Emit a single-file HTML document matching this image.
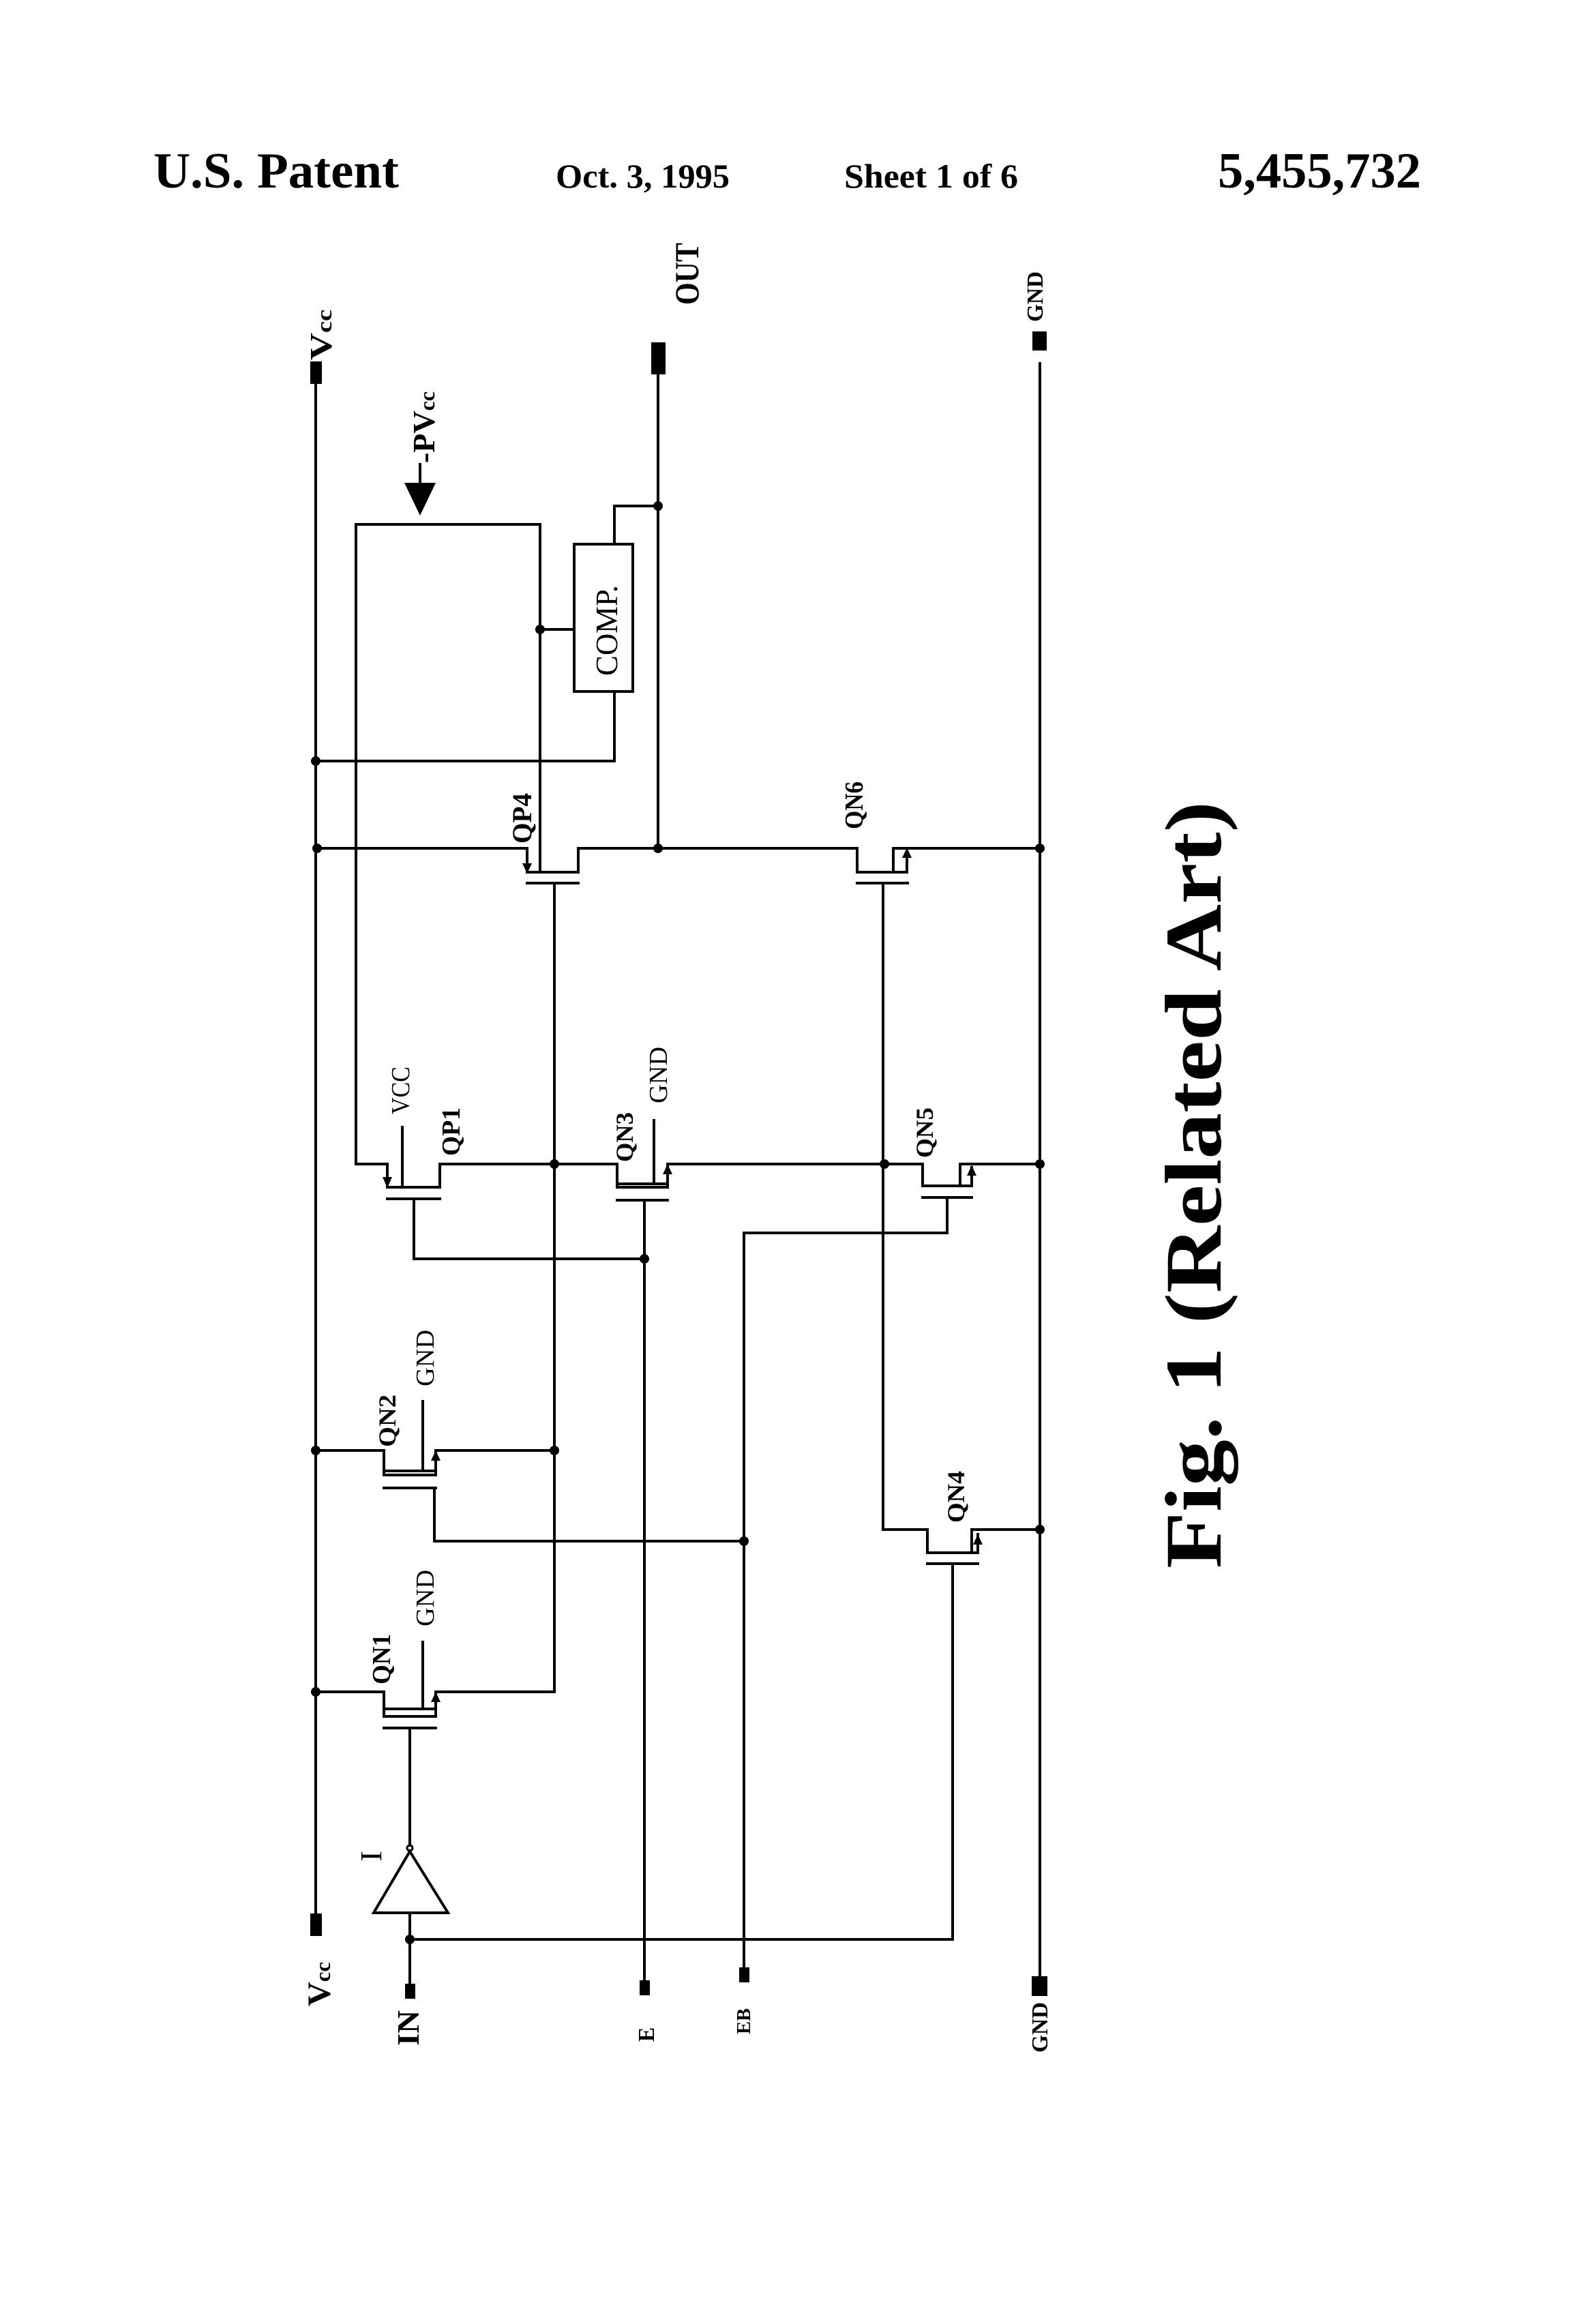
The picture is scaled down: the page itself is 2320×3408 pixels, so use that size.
<!DOCTYPE html>
<html><head><meta charset="utf-8"><style>
html,body{margin:0;padding:0;background:#fff;}
svg{display:block;}
text{font-family:"Liberation Serif",serif;fill:#000;}
.b{font-weight:bold;}
</style></head><body>
<svg width="2320" height="3408" viewBox="0 0 2320 3408" xmlns="http://www.w3.org/2000/svg">
<defs>
<marker id="ad" markerWidth="12" markerHeight="12" refX="6" refY="10" orient="auto" markerUnits="userSpaceOnUse"></marker>
</defs>
<!-- header -->
<text x="225" y="275" class="b" font-size="74" textLength="360" lengthAdjust="spacingAndGlyphs">U.S. Patent</text>
<text x="815" y="275" class="b" font-size="50" textLength="255" lengthAdjust="spacingAndGlyphs">Oct. 3, 1995</text>
<text x="1238" y="275" class="b" font-size="50" textLength="255" lengthAdjust="spacingAndGlyphs">Sheet 1 of 6</text>
<text x="1786" y="275" class="b" font-size="74" textLength="298" lengthAdjust="spacingAndGlyphs">5,455,732</text>

<g stroke="#000" stroke-width="4" fill="none" stroke-linecap="square">
<!-- rails -->
<line x1="463" y1="563" x2="463" y2="2806"/>
<line x1="1525" y1="533" x2="1525" y2="2898"/>
<line x1="965" y1="549" x2="965" y2="1244"/>
<!-- PV box -->
<polyline points="522,1707 522,769 792,769 792,1279"/>
<polyline points="522,1707 568,1707 568,1738"/>
<!-- COMP -->
<rect x="842" y="798" width="86" height="216"/>
<polyline points="901,798 901,742 965,742"/>
<polyline points="901,1014 901,1116 463,1116"/>
<line x1="792" y1="923" x2="842" y2="923"/>
<!-- QP4 / QN6 row -->
<polyline points="463,1244 773,1244 773,1276"/>
<polyline points="773,1279 848,1279 848,1244 1257,1244 1257,1279 1330,1279"/>
<polyline points="1310,1279 1310,1244 1525,1244"/>
<line x1="1330" y1="1279" x2="1330" y2="1250"/>
<line x1="773" y1="1295" x2="848" y2="1295"/>
<line x1="813" y1="1295" x2="813" y2="2481"/>
<line x1="1257" y1="1295" x2="1331" y2="1295"/>
<polyline points="1295,1295 1295,2243 1360,2243 1360,2277 1434,2277"/>
<polyline points="1425,2277 1425,2243 1525,2243"/>
<line x1="1434" y1="2277" x2="1434" y2="2250"/>
<!-- QP1 -->
<line x1="568" y1="1741" x2="645" y2="1741"/>
<polyline points="645,1741 645,1707 905,1707 905,1741"/>
<line x1="590" y1="1653" x2="590" y2="1741"/>
<line x1="568" y1="1758" x2="645" y2="1758"/>
<polyline points="607,1758 607,1846 945,1846"/>
<!-- QN3 -->
<rect x="905" y="1736" width="74" height="5"/>
<line x1="959" y1="1643" x2="959" y2="1736"/>
<polyline points="979,1736 979,1707 1353,1707 1353,1739 1425,1739"/>
<polyline points="1408,1739 1408,1707 1525,1707"/>
<line x1="1425" y1="1739" x2="1425" y2="1712"/>
<line x1="905" y1="1760" x2="979" y2="1760"/>
<line x1="945" y1="1760" x2="945" y2="2904"/>
<!-- QN5 gate -->
<line x1="1353" y1="1756" x2="1425" y2="1756"/>
<polyline points="1389,1756 1389,1808 1091,1808 1091,2885"/>
<!-- QN2 -->
<polyline points="463,2127 563,2127 563,2157"/>
<rect x="563" y="2157" width="76" height="6"/>
<polyline points="639,2157 639,2127 813,2127"/>
<line x1="620" y1="2055" x2="620" y2="2157"/>
<line x1="563" y1="2182" x2="639" y2="2182"/>
<polyline points="637,2182 637,2260 1091,2260"/>
<!-- QN1 -->
<polyline points="463,2481 563,2481 563,2506"/>
<rect x="563" y="2506" width="76" height="11"/>
<polyline points="639,2506 639,2481 813,2481"/>
<line x1="620" y1="2408" x2="620" y2="2506"/>
<line x1="563" y1="2534" x2="639" y2="2534"/>
<line x1="601" y1="2534" x2="601" y2="2706"/>
<!-- QN4 gate -->
<line x1="1360" y1="2293" x2="1394" y2="2293"/>
<line x1="1400" y1="2293" x2="1434" y2="2293"/>
<line x1="1397" y1="2293" x2="1397" y2="2844"/>
<!-- inverter -->
<polygon points="601,2715 548,2805 657,2805"/>
<circle cx="601" cy="2710" r="4" stroke-width="3"/>
<polyline points="601,2805 601,2909"/>
<line x1="601" y1="2844" x2="1397" y2="2844"/>
</g>
<!-- arrowheads -->
<g fill="#000">
<polygon points="766,1266 780,1266 773,1281"/>
<polygon points="1323,1258 1337,1258 1330,1243"/>
<polygon points="1427,2265 1441,2265 1434,2250"/>
<polygon points="561,1726 575,1726 568,1742"/>
<polygon points="972,1722 986,1722 979,1707"/>
<polygon points="1418,1724 1432,1724 1425,1709"/>
<polygon points="632,2142 646,2142 639,2127"/>
<polygon points="632,2496 646,2496 639,2481"/>
<!-- PV arrow -->
<polygon points="593,708 639,708 616,756"/>
<rect x="614" y="679" width="4" height="30"/>
<!-- pads -->
<rect x="455" y="530" width="17" height="33"/>
<rect x="955" y="502" width="21" height="47"/>
<rect x="1514" y="486" width="21" height="28"/>
<rect x="455" y="2806" width="17" height="33"/>
<rect x="594" y="2909" width="15" height="22"/>
<rect x="938" y="2904" width="15" height="22"/>
<rect x="1084" y="2885" width="15" height="22"/>
<rect x="1513" y="2898" width="23" height="29"/>
<!-- dots -->
<circle cx="965" cy="742" r="7"/>
<circle cx="792" cy="923" r="7"/>
<circle cx="463" cy="1116" r="7"/>
<circle cx="465" cy="1244" r="7"/>
<circle cx="965" cy="1244" r="7"/>
<circle cx="1525" cy="1244" r="7"/>
<circle cx="813" cy="1707" r="7"/>
<circle cx="1297" cy="1707" r="7"/>
<circle cx="1525" cy="1707" r="7"/>
<circle cx="945" cy="1846" r="7"/>
<circle cx="463" cy="2127" r="7"/>
<circle cx="813" cy="2127" r="7"/>
<circle cx="1091" cy="2260" r="7"/>
<circle cx="1525" cy="2243" r="7"/>
<circle cx="463" cy="2481" r="7"/>
<circle cx="601" cy="2844" r="7"/>
</g>
<!-- rotated labels -->
<g>
<text transform="translate(486,528) rotate(-90)" class="b" font-size="46" textLength="74" lengthAdjust="spacingAndGlyphs">V<tspan font-size="32">cc</tspan></text>
<text transform="translate(1024,447) rotate(-90)" class="b" font-size="50" textLength="91" lengthAdjust="spacingAndGlyphs">OUT</text>
<text transform="translate(1529,472) rotate(-90)" class="b" font-size="34" textLength="74" lengthAdjust="spacingAndGlyphs">GND</text>
<text transform="translate(637,679) rotate(-90)" class="b" font-size="46" textLength="105" lengthAdjust="spacingAndGlyphs">-PV<tspan font-size="32">cc</tspan></text>
<text transform="translate(905,991) rotate(-90)" font-size="46" textLength="133" lengthAdjust="spacingAndGlyphs">COMP.</text>
<text transform="translate(779,1237) rotate(-90)" class="b" font-size="40" textLength="74" lengthAdjust="spacingAndGlyphs">QP4</text>
<text transform="translate(1265,1216) rotate(-90)" class="b" font-size="38" textLength="70" lengthAdjust="spacingAndGlyphs">QN6</text>
<text transform="translate(600,1634) rotate(-90)" font-size="38" textLength="70" lengthAdjust="spacingAndGlyphs">VCC</text>
<text transform="translate(674,1695) rotate(-90)" class="b" font-size="38" textLength="71" lengthAdjust="spacingAndGlyphs">QP1</text>
<text transform="translate(928,1704) rotate(-90)" class="b" font-size="36" textLength="73" lengthAdjust="spacingAndGlyphs">QN3</text>
<text transform="translate(978,1618) rotate(-90)" font-size="38" textLength="83" lengthAdjust="spacingAndGlyphs">GND</text>
<text transform="translate(1368,1698) rotate(-90)" class="b" font-size="36" textLength="74" lengthAdjust="spacingAndGlyphs">QN5</text>
<text transform="translate(580,2122) rotate(-90)" class="b" font-size="36" textLength="77" lengthAdjust="spacingAndGlyphs">QN2</text>
<text transform="translate(636,2033) rotate(-90)" font-size="38" textLength="83" lengthAdjust="spacingAndGlyphs">GND</text>
<text transform="translate(1414,2233) rotate(-90)" class="b" font-size="36" textLength="76" lengthAdjust="spacingAndGlyphs">QN4</text>
<text transform="translate(572,2470) rotate(-90)" class="b" font-size="38" textLength="74" lengthAdjust="spacingAndGlyphs">QN1</text>
<text transform="translate(636,2385) rotate(-90)" font-size="38" textLength="83" lengthAdjust="spacingAndGlyphs">GND</text>
<text transform="translate(559,2730) rotate(-90)" font-size="44" textLength="16" lengthAdjust="spacingAndGlyphs">I</text>
<text transform="translate(484,2942) rotate(-90)" class="b" font-size="48" textLength="65" lengthAdjust="spacingAndGlyphs">V<tspan font-size="32">cc</tspan></text>
<text transform="translate(614,3000) rotate(-90)" class="b" font-size="46" textLength="52" lengthAdjust="spacingAndGlyphs">IN</text>
<text transform="translate(959,2994) rotate(-90)" class="b" font-size="34" textLength="21" lengthAdjust="spacingAndGlyphs">E</text>
<text transform="translate(1100,2983) rotate(-90)" class="b" font-size="28" textLength="38" lengthAdjust="spacingAndGlyphs">EB</text>
<text transform="translate(1536,3010) rotate(-90)" class="b" font-size="34" textLength="74" lengthAdjust="spacingAndGlyphs">GND</text>
<text transform="translate(1790,2300) rotate(-90)" class="b" font-size="118" textLength="1125" lengthAdjust="spacingAndGlyphs">Fig. 1 (Related  Art)</text>
</g>
</svg>
</body></html>
